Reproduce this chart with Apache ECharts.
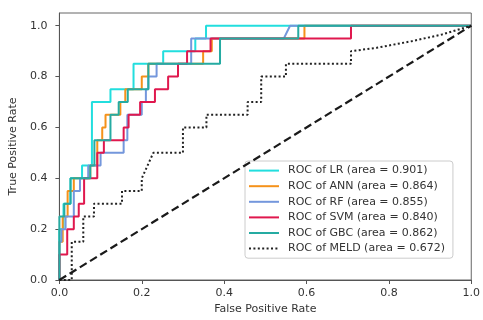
<!DOCTYPE html>
<html>
<head>
<meta charset="utf-8">
<script src="https://cdn.jsdelivr.net/npm/echarts@6/dist/echarts.min.js"></script>
<style>
html,body{margin:0;padding:0;background:#fff;}
#chart{width:483px;height:320px;}
</style>
</head>
<body>
<div id="chart"></div>
<script>
// ROC corner points (false positive rate / true positive rate)
const LR_FPR  = [0, 0,   0.01, 0.01, 0.027, 0.027, 0.055, 0.055, 0.079, 0.079, 0.124, 0.124, 0.18, 0.18, 0.252, 0.252, 0.33, 0.33, 0.356, 0.356, 1];
const LR_TPR  = [0, 0.2, 0.2,  0.3,  0.3,   0.4,   0.4,   0.45,  0.45,  0.7,   0.7,   0.75,  0.75, 0.85, 0.85,  0.9,   0.9,  0.95, 0.95,  1,     1];

const ANN_FPR = [0, 0,    0.008, 0.008, 0.02, 0.02, 0.035, 0.035, 0.075, 0.075, 0.092, 0.092, 0.104, 0.104, 0.112, 0.112, 0.148, 0.148, 0.16, 0.16, 0.2,  0.2, 0.216, 0.216, 0.349, 0.349, 0.37, 0.37, 0.595, 0.595, 1];
const ANN_TPR = [0, 0.15, 0.15,  0.25,  0.25, 0.35, 0.35,  0.4,   0.4,   0.45,  0.45,  0.55,  0.55,  0.6,   0.6,   0.65,  0.65,  0.7,   0.7,  0.75, 0.75, 0.8, 0.8,   0.85,  0.85,  0.9,   0.9,  0.95, 0.95,  1,     1];

const RF_FPR  = [0, 0,    0.005, 0.005, 0.015, 0.015, 0.035, 0.035, 0.05, 0.05, 0.07, 0.07, 0.1,  0.1, 0.156, 0.156, 0.165, 0.165, 0.2,  0.2, 0.21, 0.21, 0.216, 0.216, 0.236, 0.236, 0.32, 0.32, 0.545, 0.56, 1];
const RF_TPR  = [0, 0.15, 0.15,  0.2,   0.2,   0.25,  0.25,  0.35,  0.35, 0.4,  0.4,  0.45, 0.45, 0.5, 0.5,   0.55,  0.55,  0.65,  0.65, 0.7, 0.7,  0.75, 0.75,  0.8,   0.8,   0.85,  0.85, 0.95, 0.95,  1,    1];

const SVM_FPR = [0, 0,   0.019, 0.019, 0.035, 0.035, 0.047, 0.047, 0.06, 0.06, 0.092, 0.092, 0.108, 0.108, 0.156, 0.156, 0.168, 0.168, 0.196, 0.196, 0.232, 0.232, 0.264, 0.264, 0.288, 0.288, 0.31, 0.31, 0.367, 0.367, 0.708, 0.708, 1];
const SVM_TPR = [0, 0.1, 0.1,   0.2,   0.2,   0.25,  0.25,  0.3,   0.3,  0.4,  0.4,   0.5,   0.5,   0.55,  0.55,  0.6,   0.6,   0.65,  0.65,  0.7,   0.7,   0.75,  0.75,  0.8,   0.8,   0.85,  0.85, 0.9,  0.9,   0.95,  0.95,  1,     1];

const GBC_FPR = [0, 0,    0.012, 0.012, 0.027, 0.027, 0.075, 0.075, 0.085, 0.085, 0.124, 0.124, 0.144, 0.144, 0.166, 0.166, 0.216, 0.216, 0.39, 0.39, 0.58, 0.58, 1];
const GBC_TPR = [0, 0.25, 0.25,  0.3,   0.3,   0.4,   0.4,   0.45,  0.45,  0.55,  0.55,  0.65,  0.65,  0.7,   0.7,   0.75,  0.75,  0.85,  0.85, 0.95, 0.95, 1,    1];

const MELD_FPR = [0, 0.03, 0.03, 0.058, 0.058, 0.084, 0.084, 0.152, 0.152, 0.2,  0.2, 0.228, 0.3, 0.3, 0.357, 0.357, 0.457, 0.457, 0.49, 0.49, 0.55, 0.55, 0.708, 0.708, 0.77,  0.855, 0.928, 1];
const MELD_TPR = [0, 0,    0.15, 0.15,  0.25,  0.25,  0.3,   0.3,   0.35,  0.35, 0.4, 0.5,   0.5, 0.6, 0.6,   0.65,  0.65,  0.7,   0.7,  0.8,  0.8,  0.85, 0.85,  0.9,   0.913, 0.939, 0.965, 1];

const CHANCE_FPR = [0, 1];
const CHANCE_TPR = [0, 1];

const MODEL_NAMES = ['LR', 'ANN', 'RF', 'SVM', 'GBC', 'MELD'];
const MODEL_AUC = ['0.901', '0.864', '0.855', '0.840', '0.862', '0.672'];

const X_TICKS = [0, 0.2, 0.4, 0.6, 0.8, 1.0];
const Y_TICKS = [0, 0.2, 0.4, 0.6, 0.8, 1.0];

const zip = (a, b) => a.map((v, i) => [v, b[i]]);
const curves = [
  zip(LR_FPR, LR_TPR), zip(ANN_FPR, ANN_TPR), zip(RF_FPR, RF_TPR),
  zip(SVM_FPR, SVM_TPR), zip(GBC_FPR, GBC_TPR), zip(MELD_FPR, MELD_TPR)
];
const colors = ['#22dede', '#f5921a', '#7497dc', '#e0184e', '#25aba2', '#222222'];
const labels = MODEL_NAMES.map((n, i) => 'ROC of ' + n + ' (area = ' + MODEL_AUC[i] + ')');

const FONT = 'DejaVu Sans';
const series = curves.map((d, i) => ({
  name: labels[i],
  type: 'line',
  data: d,
  symbol: 'none',
  showSymbol: false,
  color: colors[i],
  lineStyle: { color: colors[i], width: 2, type: i === 5 ? [2, 2.4] : 'solid', cap: 'butt' },
  z: 2 + i,
  silent: true
}));
series.push({
  name: 'chance',
  type: 'line',
  data: zip(CHANCE_FPR, CHANCE_TPR),
  symbol: 'none',
  showSymbol: false,
  lineStyle: { color: '#1a1a1a', width: 2.2, type: [8, 4] },
  z: 9,
  silent: true
});

const chart = echarts.init(document.getElementById('chart'), null, { renderer: 'canvas' });
chart.setOption({
  animation: false,
  backgroundColor: '#fff',
  grid: { left: 58, right: 9, top: 13, bottom: 38, show: true, borderColor: '#666', borderWidth: 1, backgroundColor: 'transparent' },
  xAxis: {
    type: 'value', min: 0, max: 1, interval: 0.2,
    name: 'False Positive Rate', nameLocation: 'middle', nameGap: 24,
    nameTextStyle: { fontFamily: FONT, fontSize: 11, color: '#333' },
    axisLine: { show: true, lineStyle: { color: '#555', width: 1 } },
    axisTick: { show: true, length: 4, lineStyle: { color: '#555' }, customValues: X_TICKS },
    axisLabel: { fontFamily: FONT, fontSize: 11, color: '#333', margin: 8, customValues: X_TICKS,
      formatter: v => v.toFixed(1) },
    splitLine: { show: false }
  },
  yAxis: {
    type: 'value', min: 0, max: 1.05,
    name: 'True Positive Rate', nameLocation: 'middle', nameGap: 31,
    nameTextStyle: { fontFamily: FONT, fontSize: 11, color: '#333' },
    axisLine: { show: true, lineStyle: { color: '#555', width: 1 } },
    axisTick: { show: true, length: 4, lineStyle: { color: '#555' }, customValues: Y_TICKS },
    axisLabel: { fontFamily: FONT, fontSize: 11, color: '#333', margin: 12, customValues: Y_TICKS,
      formatter: v => v.toFixed(1) },
    splitLine: { show: false }
  },
  legend: {
    data: labels,
    orient: 'vertical',
    left: 245, top: 161,
    padding: [4, 8, 4, 3],
    itemGap: 4.4,
    itemWidth: 30, itemHeight: 14,
    itemStyle: { opacity: 0 },
    backgroundColor: 'rgba(255,255,255,0.85)',
    borderColor: '#cccccc', borderWidth: 1, borderRadius: 3,
    textStyle: { fontFamily: FONT, fontSize: 11, color: '#333', padding: [0, 0, 0, 4] },
    selectedMode: false
  },
  series: series
});
</script>
</body>
</html>
